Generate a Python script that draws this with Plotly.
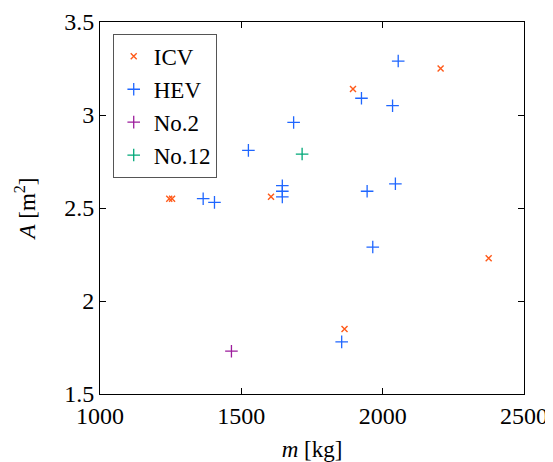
import plotly.graph_objects as go

# Data
icv_m = [1245, 1255, 1605, 1895, 2205, 2375, 1865]
icv_A = [2.55, 2.55, 2.56, 3.14, 3.25, 2.23, 1.85]

hev_m = [1365, 1405, 1525, 1645, 1645, 1645, 1685, 1855, 1925, 1945, 1965, 2035, 2045, 2055]
hev_A = [2.55, 2.53, 2.81, 2.62, 2.59, 2.56, 2.96, 1.78, 3.09, 2.59, 2.29, 3.05, 2.63, 3.29]

no2_m = [1465]
no2_A = [1.73]

no12_m = [1715]
no12_A = [2.79]

x_ticks = [1000, 1500, 2000, 2500]
y_ticks = [1.5, 2, 2.5, 3, 3.5]

FONT = "Liberation Serif"

fig = go.Figure()
fig.add_trace(go.Scatter(x=icv_m, y=icv_A, mode="markers", name="ICV",
                         marker=dict(symbol="x-thin", size=6, line=dict(color="#ff5a1a", width=1.4))))
fig.add_trace(go.Scatter(x=hev_m, y=hev_A, mode="markers", name="HEV",
                         marker=dict(symbol="cross-thin", size=9, line=dict(color="#1f66ff", width=1.3))))
fig.add_trace(go.Scatter(x=no2_m, y=no2_A, mode="markers", name="No.2",
                         marker=dict(symbol="cross-thin", size=9, line=dict(color="#9c1c9c", width=1.3))))
fig.add_trace(go.Scatter(x=no12_m, y=no12_A, mode="markers", name="No.12",
                         marker=dict(symbol="cross-thin", size=9, line=dict(color="#00a878", width=1.3))))

axis_common = dict(showline=True, linecolor="black", linewidth=1, mirror="ticks",
                   ticks="inside", ticklen=6, tickcolor="black", showgrid=False, zeroline=False,
                   automargin=False,
                   tickfont=dict(family=FONT, size=24, color="black"))

fig.update_layout(
    width=545, height=454,
    margin=dict(l=92, r=29, t=14, b=68),
    plot_bgcolor="white", paper_bgcolor="white",
    font=dict(family=FONT, size=24, color="black"),
    showlegend=True,
    legend=dict(x=0.03, y=0.968, xanchor="left", yanchor="top",
                bgcolor="white", bordercolor="#555555", borderwidth=1,
                font=dict(family=FONT, size=23, color="black"),
                itemwidth=30),
    xaxis=dict(range=[1000, 2500], tickvals=x_ticks, ticktext=[str(v) for v in x_ticks],
               title=dict(text="<i>m</i> [kg]", font=dict(family=FONT, size=23), standoff=13),
               **axis_common),
    yaxis=dict(range=[1.5, 3.5], tickvals=y_ticks, ticktext=["1.5", "2", "2.5", "3", "3.5"],
               title=dict(text="<i>A</i> [m<sup>2</sup>]", font=dict(family=FONT, size=23), standoff=22),
               **axis_common),
)

fig.write_html("out.html")
